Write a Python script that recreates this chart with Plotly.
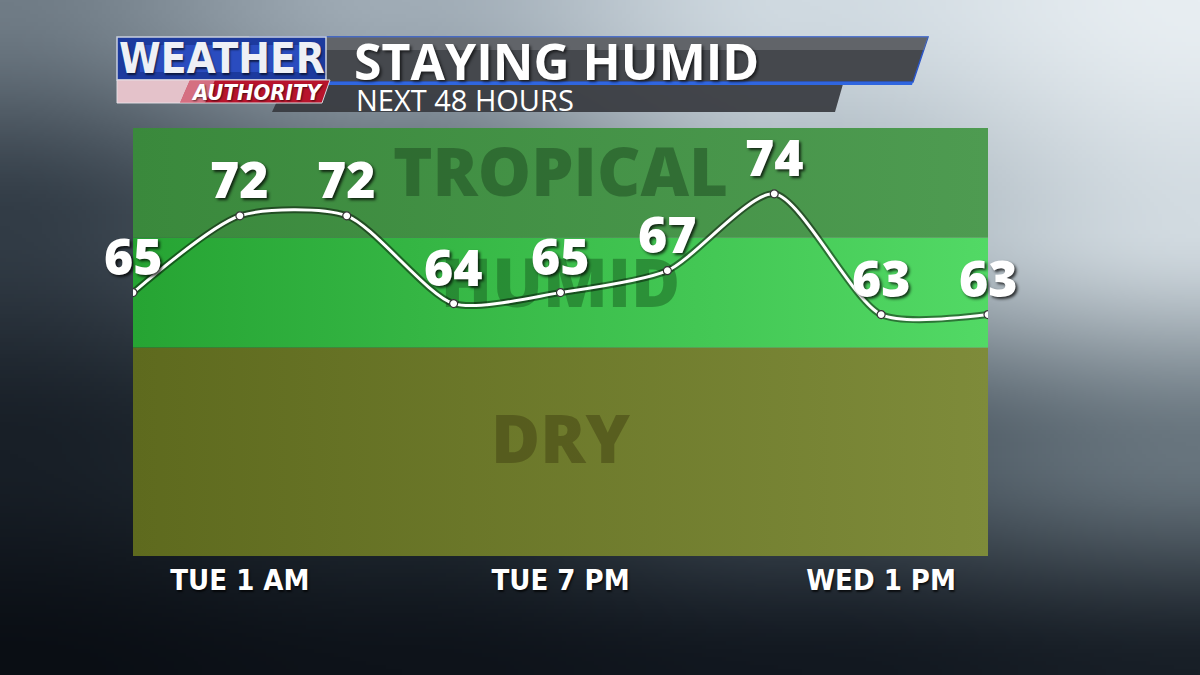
import base64
import struct
import zlib

import numpy as np
import plotly.graph_objects as go

# -- data --
times = ["MON 7 PM", "TUE 1 AM", "TUE 7 AM", "TUE 1 PM", "TUE 7 PM",
         "WED 1 AM", "WED 7 AM", "WED 1 PM", "WED 7 PM"]
dewpoints = [65, 72, 72, 64, 65, 67, 74, 63, 63]
tick_times = ["TUE 1 AM", "TUE 7 PM", "WED 1 PM"]
band_names = ["DRY", "HUMID", "TROPICAL"]
band_edges = [41, 60, 70, 80]
band_label_y = [51, 65.2, 75.3]

W, H = 1200, 675
L, R, T, B = 133, 988, 128, 556   # plot area in pixels


def px(x):
    return (x - L) / (R - L)


def py(y):
    return (B - y) / (B - T)


def png_uri(arr):
    h, w, _ = arr.shape
    raw = b"".join(b"\x00" + arr[i].tobytes() for i in range(h))

    def chunk(tag, data):
        return (struct.pack(">I", len(data)) + tag + data
                + struct.pack(">I", zlib.crc32(tag + data) & 0xFFFFFFFF))

    png = (b"\x89PNG\r\n\x1a\n"
           + chunk(b"IHDR", struct.pack(">IIBBBBB", w, h, 8, 2, 0, 0, 0))
           + chunk(b"IDAT", zlib.compress(raw, 9))
           + chunk(b"IEND", b""))
    return "data:image/png;base64," + base64.b64encode(png).decode()


def foggy_background(w=300, h=169):
    # smooth 4x4 colour grid: dark slate bottom/left, light fog top right
    grid = np.array([
        [(112, 124, 134), (160, 172, 182), (208, 218, 225), (232, 238, 242)],
        [(50, 60, 70), (90, 102, 112), (168, 180, 188), (210, 219, 225)],
        [(24, 31, 39), (38, 48, 56), (72, 84, 94), (104, 117, 126)],
        [(10, 14, 20), (14, 19, 26), (18, 24, 32), (24, 31, 39)],
    ], dtype=float)
    gy = np.linspace(0, 3, h)
    gx = np.linspace(0, 3, w)
    iy = np.clip(gy.astype(int), 0, 2)
    ix = np.clip(gx.astype(int), 0, 2)
    fy = gy - iy
    fx = gx - ix
    fy = fy * fy * (3 - 2 * fy)
    fx = fx * fx * (3 - 2 * fx)
    c00 = grid[iy][:, ix]
    c01 = grid[iy][:, ix + 1]
    c10 = grid[iy + 1][:, ix]
    c11 = grid[iy + 1][:, ix + 1]
    fx = fx[None, :, None]
    fy = fy[:, None, None]
    top = c00 * (1 - fx) + c01 * fx
    bot = c10 * (1 - fx) + c11 * fx
    img = top * (1 - fy) + bot * fy
    return np.clip(img, 0, 255).astype(np.uint8)


fig = go.Figure()

# -- humidity bands --
band_colors = [("#5e6a1e", "#7e8b3a"), ("#26a433", "#52d965"), ("#3a893c", "#4e9b51")]
for lo, hi, (c1, c2) in zip(band_edges[:-1], band_edges[1:], band_colors):
    fig.add_trace(go.Scatter(
        x=[times[0], times[-1], times[-1], times[0]],
        y=[lo, lo, hi, hi],
        mode="none", fill="toself",
        fillgradient=dict(type="horizontal", colorscale=[[0, c1], [1, c2]]),
        hoverinfo="skip", showlegend=False,
    ))

# -- band names (behind the line) --
band_text_colors = ["rgba(70,70,20,0.55)", "rgba(30,110,40,0.6)", "rgba(35,85,38,0.6)"]
for name, yv, col in zip(band_names, band_label_y, band_text_colors):
    fig.add_trace(go.Scatter(
        x=[times[4]], y=[yv], mode="text", text=[name],
        textposition="middle center",
        textfont=dict(family="Open Sans", size=67, weight=800, color=col),
        hoverinfo="skip", showlegend=False,
    ))

# -- dew point line --
fig.add_trace(go.Scatter(
    x=times, y=dewpoints, mode="lines",
    line=dict(color="rgba(0,0,0,0.45)", width=7, shape="spline", smoothing=0.7),
    hoverinfo="skip", showlegend=False,
))
fig.add_trace(go.Scatter(
    x=times, y=dewpoints, mode="lines+markers",
    line=dict(color="white", width=3, shape="spline", smoothing=0.7),
    marker=dict(size=8, color="white", line=dict(color="#333", width=1.2)),
    showlegend=False,
    hovertemplate="%{x}: %{y}°<extra></extra>",
))

annotations = []
for t, v in zip(times, dewpoints):
    annotations.append(dict(
        x=t, y=v, xref="x", yref="y", text=str(v), showarrow=False,
        xanchor="center", yanchor="bottom", yshift=1,
        font=dict(family="Open Sans", size=50, weight=800, color="white",
                  shadow="2px 2px 3px rgba(0,0,0,0.75)"),
    ))

# -- header graphic --
shapes = []


def poly(pts, color, line=None):
    path = "M " + " L ".join(f"{px(x):.5f},{py(y):.5f}" for x, y in pts) + " Z"
    shapes.append(dict(type="path", xref="paper", yref="paper", path=path,
                       fillcolor=color, line=line or dict(width=0), layer="above"))


poly([(250, 37), (928, 37), (913, 82), (250, 82)], "#45484d",
     dict(color="#2b56c8", width=1.5))
poly([(250, 37), (928, 37), (924, 50), (250, 50)], "rgba(120,124,130,0.55)")
poly([(285, 84), (843, 84), (835, 112), (272, 112)], "rgba(55,58,63,0.92)")
poly([(270, 82), (913, 82), (912, 85), (270, 85)], "#2f66e0")
poly([(117, 37), (326, 37), (326, 80), (117, 80)], "#1c3a9e",
     dict(color="#c9d0de", width=1.5))
poly([(140, 45), (300, 45), (300, 72), (140, 72)], "rgba(60,100,230,0.45)")
poly([(117, 80), (330, 80), (322, 103), (117, 103)], "#b8142c",
     dict(color="#d9d9df", width=1))
poly([(117, 80), (190, 80), (180, 103), (117, 103)], "rgba(235,225,230,0.85)")
poly([(190, 80), (215, 80), (205, 103), (180, 103)], "rgba(225,150,165,0.7)")

header_font = "Open Sans"
condensed = "DejaVu Sans Condensed, Liberation Sans Narrow, Roboto"
annotations += [
    dict(xref="paper", yref="paper", x=px(222), y=py(59), text="WEATHER",
         showarrow=False, xanchor="center", yanchor="middle",
         font=dict(family=condensed, size=42, weight=700, color="#eef0f6",
                   shadow="1px 2px 2px rgba(0,0,0,0.6)")),
    dict(xref="paper", yref="paper", x=px(325), y=py(92), text="AUTHORITY",
         showarrow=False, xanchor="right", yanchor="middle",
         font=dict(family=condensed, size=22, weight=700, style="italic",
                   color="white", shadow="1px 1px 2px rgba(0,0,0,0.6)")),
    dict(xref="paper", yref="paper", x=px(352), y=py(61), text="STAYING HUMID",
         showarrow=False, xanchor="left", yanchor="middle", height=46,
         font=dict(family=header_font, size=50, weight=700, color="white",
                   shadow="2px 2px 3px rgba(0,0,0,0.6)")),
    dict(xref="paper", yref="paper", x=px(354), y=py(99), text="NEXT 48 HOURS",
         showarrow=False, xanchor="left", yanchor="middle", height=26,
         font=dict(family=header_font, size=29, weight=400, color="white")),
]

fig.update_layout(
    width=W, height=H,
    margin=dict(l=L, r=W - R, t=T, b=H - B, pad=0),
    paper_bgcolor="#1a222b", plot_bgcolor="rgba(0,0,0,0)",
    showlegend=False,
    shapes=shapes,
    annotations=annotations,
    images=[dict(source=png_uri(foggy_background()), xref="paper", yref="paper",
                 x=px(0), y=py(0), sizex=W / (R - L), sizey=H / (B - T),
                 xanchor="left", yanchor="top", sizing="stretch", layer="below")],
)
fig.update_xaxes(
    type="category", categoryorder="array", categoryarray=times,
    range=[0, len(times) - 1], showgrid=False, zeroline=False, showline=False,
    tickvals=tick_times, ticktext=tick_times, ticks="", ticklabelstandoff=4,
    tickfont=dict(family=condensed, size=29, weight=700, color="white",
                  shadow="1px 2px 2px rgba(0,0,0,0.7)"),
)
fig.update_yaxes(range=[band_edges[0], band_edges[-1]], visible=False)

fig.write_html("out.html", config={"displayModeBar": False},
               post_script="document.body.style.margin = '0';")
